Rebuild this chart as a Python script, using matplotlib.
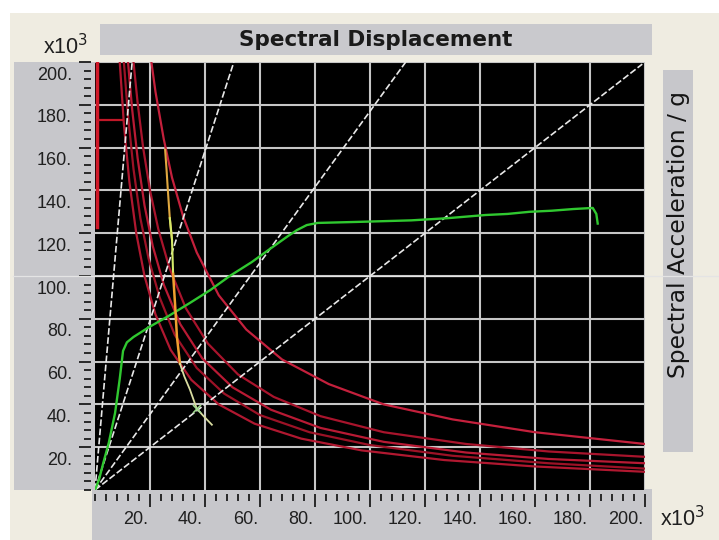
import matplotlib
matplotlib.use("Agg")
import matplotlib.pyplot as plt
from matplotlib.patches import Rectangle
from matplotlib.ticker import MultipleLocator

# demand spectra, Sd (x10^3) against Sa (x10^3)
red_a_x = [20.5, 22, 25, 28, 32, 37, 45, 55, 68, 85, 105, 130, 160, 200]
red_a_y = [200, 186, 164, 146, 128, 111, 91, 75, 61, 49.5, 40, 33, 27, 21.5]
red_b_x = [14, 15.5, 17.5, 20, 23, 27, 33, 41, 52, 65, 82, 105, 135, 165, 200]
red_b_y = [200, 181, 160, 140, 122, 104, 85, 68.5, 54, 43.5, 34.5, 27, 21.5, 18, 15.5]
red_c_x = [12, 13.5, 15.5, 18, 21, 25, 31, 39, 50, 64, 82, 105, 135, 165, 200]
red_c_y = [200, 178, 155, 133, 114, 96, 77.5, 61.5, 48, 37.5, 29, 22.5, 17.5, 14.5, 12.5]
red_d_x = [10.5, 12, 14, 16.5, 19.5, 23.5, 29, 37, 47, 60, 78, 100, 130, 165, 200]
red_d_y = [200, 175, 150, 127, 108, 90, 72.5, 57, 45, 35, 27, 21, 16, 12.5, 10]
red_e_x = [9, 10.5, 12.5, 15, 18, 22, 27.5, 35, 45, 58, 75, 97, 127, 160, 200]
red_e_y = [200, 171, 144, 120, 100, 82, 65.5, 51.5, 40, 31, 24, 18.5, 14, 11, 8.5]
red_edge_x = [0.8, 0.8]
red_edge_y = [123, 200]
red_step_x = [0.8, 10]
red_step_y = [173, 173]

# capacity curve
cap_x = [0, 1.5, 3, 5, 7.3, 9, 10.2, 11.6, 14, 19.5, 27, 34.5, 42, 49, 57, 64, 70,
         73.5, 77, 81, 96, 115, 128, 142, 150, 158, 166, 174, 181, 182.3, 182.8]
cap_y = [0, 5, 12.6, 22, 36, 52, 65, 69, 71.5, 76, 81.5, 87.4, 93.5, 100, 106.5, 113, 118.5,
         121.5, 123.8, 124.8, 125.3, 126, 127, 128.5, 129, 130, 130.5, 131.3, 131.8, 129, 124.5]

# performance point trace
perf_x = [25.5, 26.0, 26.5, 27.2, 28.0, 28.4, 29.2, 29.8, 30.9, 32.5, 34.5, 37.0, 39.5, 42.5]
perf_y = [159, 150, 140, 127, 117, 101, 85, 71.5, 59, 53, 47, 38, 34.5, 30.5]

# constant period rays from the origin
period_x = [13.5, 50.5, 113, 199]
period_y = [200, 200, 200, 199]

ticks = [20, 40, 60, 80, 100, 120, 140, 160, 180, 200]

W, H = 719, 540
cream = '#efece1'
panel = '#c7c7cb'

fig = plt.figure(figsize=(W / 100, H / 100), dpi=100, facecolor='white')


def box(x0, y0, x1, y1, color):
    fig.add_artist(Rectangle((x0 / W, 1 - y1 / H), (x1 - x0) / W, (y1 - y0) / H,
                             transform=fig.transFigure, facecolor=color,
                             edgecolor='none', zorder=0))


box(10, 13, W, H, cream)
box(100, 24, 652, 55, '#c9c9cd')
box(14, 62, 96, 490, panel)
box(92, 489, 652, H, panel)
box(663, 70, 693, 452, panel)

ax = fig.add_axes([95 / W, 1 - 490 / H, 550 / W, 428 / H])
ax.set_facecolor('black')
ax.set_xlim(0, 200)
ax.set_ylim(0, 200)
ax.set_xticks(ticks)
ax.set_yticks(ticks)
ax.xaxis.set_minor_locator(MultipleLocator(4))
ax.yaxis.set_minor_locator(MultipleLocator(4))
for s in ax.spines.values():
    s.set_visible(False)
ax.spines['left'].set_position(('outward', 3))
ax.spines['bottom'].set_position(('outward', 3))
ax.tick_params(which='both', direction='out', color='#1c1c1c', width=1.3,
               labelleft=False, labelbottom=False)
ax.tick_params(which='major', length=9)
ax.tick_params(which='minor', length=5)
ax.grid(which='major', color='#c6c6c6', lw=1.5)
ax.set_axisbelow(True)

# faint scan line running across the whole panel at 100
ax.axhline(100, xmin=-0.149, xmax=1.135, color='#e4e4e4', lw=0.9, clip_on=False, zorder=1)

for xs, ys, c in [(red_a_x, red_a_y, '#c4203c'), (red_b_x, red_b_y, '#a8142c'),
                  (red_c_x, red_c_y, '#b81a34'), (red_d_x, red_d_y, '#9c1226'),
                  (red_e_x, red_e_y, '#b01830')]:
    ax.plot(xs, ys, color=c, lw=1.6, zorder=3)
ax.plot(red_edge_x, red_edge_y, color='#d01828', lw=2.5, zorder=3)
ax.plot(red_step_x, red_step_y, color='#c01828', lw=1.6, zorder=3)

for px, py in zip(period_x, period_y):
    ax.plot([0, px], [0, py], color='#e8e8e8', lw=1.2, ls=(0, (4, 1.5)), zorder=4)

ax.plot(cap_x, cap_y, color='#30c830', lw=1.7, zorder=5)

ax.plot(perf_x[:5], perf_y[:5], color='#e0a840', lw=1.5, zorder=6)
ax.plot(perf_x[3:6], perf_y[3:6], color='#d4ea6a', lw=1.5, zorder=6)
ax.plot(perf_x[5:9], perf_y[5:9], color='#f0a030', lw=1.8, zorder=6)
ax.plot(perf_x[8:], perf_y[8:], color='#d8dca0', lw=1.3, zorder=6)
ax.plot(perf_x[11], perf_y[11], marker='x', ms=6, mew=1.2, color='#a0d890', zorder=6)

lab = dict(fontsize=13, family=['Liberation Sans', 'DejaVu Sans'], color='#202020')
for v in ticks:
    ax.annotate(f'{v}.', xy=(0, v), xycoords=('axes fraction', 'data'),
                xytext=(-23 * 0.72, -13 * 0.72), textcoords='offset points',
                ha='right', va='center', **lab)
    ax.annotate(f'{v}.', xy=(v, 0), xycoords=('data', 'axes fraction'),
                xytext=(-2 * 0.72, -30 * 0.72), textcoords='offset points',
                ha='right', va='center', **lab)

mult = dict(lab, fontsize=15.5)
fig.text(66 / W, 1 - 47 / H, r'x10$^3$', ha='center', va='center', **mult)
fig.text(683 / W, 1 - 519 / H, r'x10$^3$', ha='center', va='center', **mult)

fig.text(376 / W, 1 - 40 / H, 'Spectral Displacement', ha='center', va='center',
         fontsize=15.5, fontweight='bold', family='DejaVu Sans', color='#1a1a1a')
fig.text(678 / W, 1 - 235 / H, 'Spectral Acceleration / g', rotation=90,
         ha='center', va='center', fontsize=16.8, family='DejaVu Sans', color='#141414')

fig.savefig('out.png', dpi=100, facecolor=fig.get_facecolor())
